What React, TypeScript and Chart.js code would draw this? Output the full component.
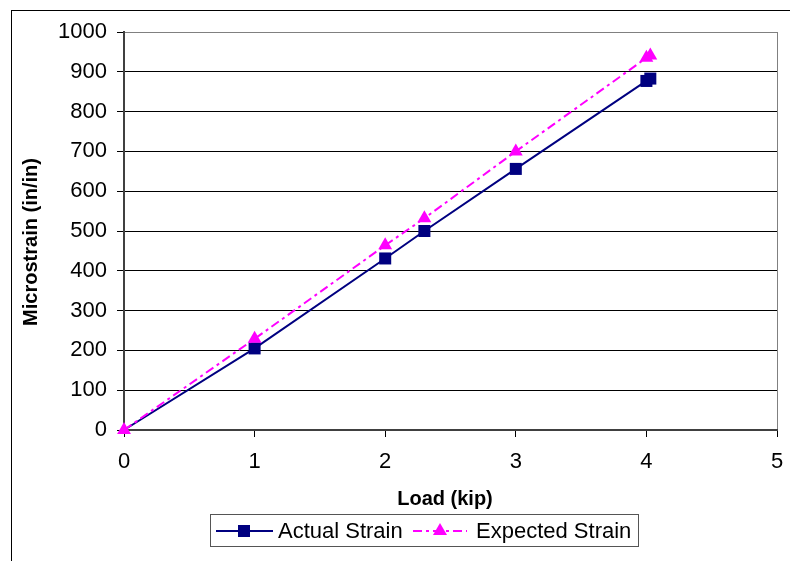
import React, { useEffect, useRef } from "react";
import { Chart, registerables } from "chart.js";

Chart.register(...registerables);

// Load steps (kip) and measured / predicted strain (microstrain)
const loadKip = [0, 1, 2, 2.3, 3, 4, 4.03];
const actualStrain = [0, 205, 431, 500, 656, 877, 883];
const expectedStrain = [0, 229, 464, 532, 700, 935, 941];

const yTicks = { min: 0, max: 1000, step: 100 };
const xTicks = { min: 0, max: 5, step: 1 };

const seriesNames = ["Actual Strain", "Expected Strain"];
const axisTitles = { x: "Load (kip)", y: "Microstrain (in/in)" };

const FONT = "'Liberation Sans', Arial, sans-serif";
const NAVY = "#000080";
const MAGENTA = "#FF00FF";
const EXP_DASH = [9, 4, 3, 4];

// Outer frame, axis titles and the boxed legend
const decorations = {
  id: "decorations",
  beforeDraw(chart: any) {
    const { ctx, width, height } = chart;
    ctx.save();
    ctx.fillStyle = "#fff";
    ctx.fillRect(0, 0, width, height);
    ctx.strokeStyle = "#000";
    ctx.lineWidth = 1;
    ctx.strokeRect(11.5, 10.5, width + 20, height + 20);
    ctx.restore();
  },
  afterDraw(chart: any) {
    const { ctx } = chart;
    ctx.save();
    ctx.fillStyle = "#000";
    ctx.font = `bold 20px ${FONT}`;
    ctx.textAlign = "center";
    ctx.textBaseline = "middle";
    ctx.fillText(axisTitles.x, 445, 499);
    ctx.save();
    ctx.translate(31, 242);
    ctx.rotate(-Math.PI / 2);
    ctx.fillText(axisTitles.y, 0, 0);
    ctx.restore();

    // legend box
    ctx.strokeStyle = "#555";
    ctx.lineWidth = 1;
    ctx.strokeRect(210.5, 514.5, 428, 32);
    const ly = 531;
    // Actual Strain sample
    ctx.strokeStyle = NAVY;
    ctx.lineWidth = 2;
    ctx.beginPath();
    ctx.moveTo(216, ly);
    ctx.lineTo(273, ly);
    ctx.stroke();
    ctx.fillStyle = NAVY;
    ctx.fillRect(238, ly - 6, 12, 12);
    // Expected Strain sample
    ctx.strokeStyle = MAGENTA;
    ctx.setLineDash(EXP_DASH);
    ctx.beginPath();
    ctx.moveTo(413, ly);
    ctx.lineTo(467, ly);
    ctx.stroke();
    ctx.setLineDash([]);
    ctx.fillStyle = MAGENTA;
    ctx.beginPath();
    ctx.moveTo(440, ly - 8);
    ctx.lineTo(447, ly + 4);
    ctx.lineTo(433, ly + 4);
    ctx.closePath();
    ctx.fill();

    ctx.fillStyle = "#000";
    ctx.font = `22px ${FONT}`;
    ctx.textAlign = "left";
    ctx.fillText(seriesNames[0], 278, ly + 1);
    ctx.fillText(seriesNames[1], 476, ly + 1);
    ctx.restore();
  },
};

export default function App() {
  const ref = useRef<HTMLCanvasElement>(null);

  useEffect(() => {
    document.body.style.margin = "0";
    const canvas = ref.current!;
    const chart = new Chart(canvas, {
      type: "line",
      data: {
        datasets: [
          {
            label: seriesNames[0],
            data: loadKip.map((x, i) => ({ x, y: actualStrain[i] })),
            borderColor: NAVY,
            backgroundColor: NAVY,
            borderWidth: 2,
            pointStyle: "rect",
            // the origin marker sits under the triangle
            pointRadius: (c: any) => (c.dataIndex === 0 ? 0 : 8.5),
            pointBorderWidth: 0,
            pointBackgroundColor: NAVY,
            tension: 0,
            clip: false,
            order: 1,
          },
          {
            label: seriesNames[1],
            data: loadKip.map((x, i) => ({ x, y: expectedStrain[i] })),
            borderColor: MAGENTA,
            backgroundColor: MAGENTA,
            borderWidth: 2,
            borderDash: EXP_DASH,
            pointStyle: "triangle",
            pointRadius: 8,
            pointBorderWidth: 0,
            pointBackgroundColor: MAGENTA,
            tension: 0,
            clip: false,
            order: 0,
          },
        ],
      },
      options: {
        responsive: false,
        animation: false,
        devicePixelRatio: 1,
        layout: { padding: { top: 32, right: 13, bottom: 0, left: 0 } },
        plugins: { legend: { display: false }, tooltip: { enabled: false } },
        scales: {
          x: {
            type: "linear",
            position: "bottom",
            min: xTicks.min,
            max: xTicks.max,
            afterFit: (s: any) => {
              s.height = 131;
              s.paddingLeft = 0;
              s.paddingRight = 0;
            },
            ticks: {
              stepSize: xTicks.step,
              color: "#000",
              font: { size: 22, family: FONT },
              padding: 12,
              maxRotation: 0,
              callback: (v: any) => String(v),
            },
            grid: {
              color: (c: any) => (c.tick && c.tick.value === xTicks.max ? "#808080" : "rgba(0,0,0,0)"),
              tickColor: "#000",
              tickLength: 7,
              lineWidth: 1,
            },
            border: { color: "#404040", width: 2 },
          },
          y: {
            type: "linear",
            min: yTicks.min,
            max: yTicks.max,
            afterFit: (s: any) => {
              s.width = 124;
              s.paddingTop = 0;
              s.paddingBottom = 0;
            },
            ticks: {
              stepSize: yTicks.step,
              color: "#000",
              font: { size: 22, family: FONT },
              padding: 10,
              callback: (v: any) => String(v),
            },
            grid: {
              color: (c: any) => (c.tick && c.tick.value === yTicks.max ? "#808080" : "#000"),
              tickColor: "#000",
              tickLength: 7,
              lineWidth: 1,
            },
            border: { color: "#404040", width: 2 },
          },
        },
      },
      plugins: [decorations],
    });
    return () => chart.destroy();
  }, []);

  return <canvas ref={ref} width={790} height={561} style={{ display: "block" }} />;
}
